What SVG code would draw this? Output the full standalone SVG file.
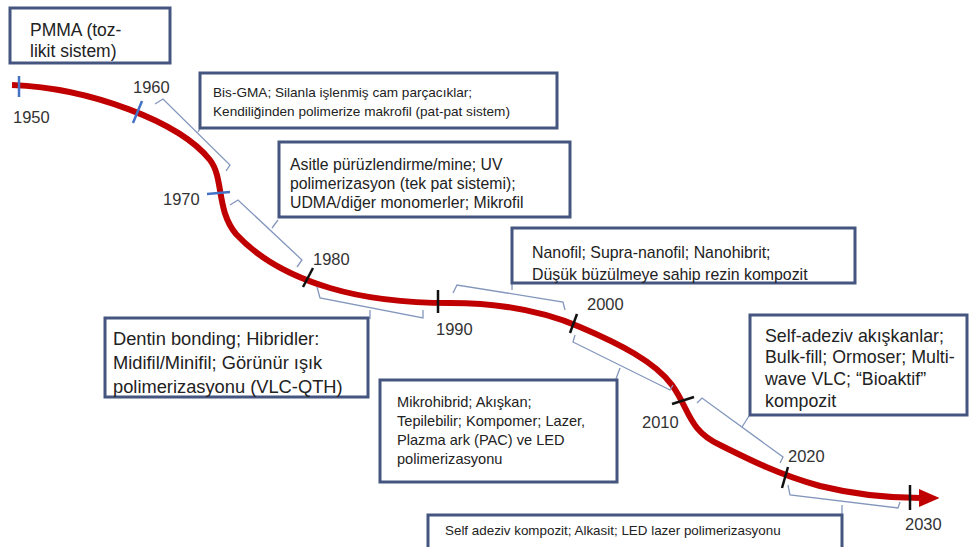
<svg xmlns="http://www.w3.org/2000/svg" width="971" height="547" viewBox="0 0 971 547">
<style>
.box{fill:#fff;stroke:#44557f;stroke-width:3}
.t{font-family:"Liberation Sans",Arial,sans-serif;fill:#222}
.yr{font-family:"Liberation Sans",Arial,sans-serif;fill:#333;font-size:16.5px}
.br{fill:none;stroke:#8397bd;stroke-width:1.3;stroke-linejoin:miter}
.tb{stroke:#4472c4;stroke-width:2.5}
.tk{stroke:#111;stroke-width:2.5}
</style>
<defs>
<marker id="ah" viewBox="0 0 10 10" refX="1" refY="5" markerWidth="3.4" markerHeight="3" markerUnits="strokeWidth" orient="auto" preserveAspectRatio="none">
<path d="M0,0 L10,5 L0,10 z" fill="#c00000"/>
</marker>
</defs>
<rect width="971" height="547" fill="#fff"/>

<g id="timeline">
<path d="M12,85 C90,88 180,122 210,160 C224,178 216,210 236,234 C258,258 290,276 330,288 C370,300 410,303 450,303 C500,303 545,312 580,327 C620,344 655,362 672,385 C690,410 688,430 720,445 C750,460 780,475 820,486 C860,496 890,498 921,498" fill="none" stroke="#c00000" stroke-width="6" marker-end="url(#ah)"/>
</g>

<g id="connectors">
<polyline class="br" points="155,104 163,99 230,165 226,171"/>
<polyline class="br" points="198,132 201,127"/>
<polyline class="br" points="230,205 238,200 302,260 297,267"/>
<polyline class="br" points="272,228 278,220"/>
<polyline class="br" points="317,287 320,298 423,318 423,310"/>
<polyline class="br" points="370,310 370,319"/>
<polyline class="br" points="453,293 457,285 563,302 565,310"/>
<polyline class="br" points="512,290 512,283"/>
<polyline class="br" points="575,335 573,342 670,390 673,385"/>
<polyline class="br" points="620,368 616,379"/>
<polyline class="br" points="697,403 702,398 783,457 780,463"/>
<polyline class="br" points="742,427 749,416"/>
<polyline class="br" points="788,485 790,495 898,508 900,502"/>
<polyline class="br" points="842,505 842,515"/>
</g>

<g id="ticks">
<line class="tb" x1="19" y1="76" x2="19" y2="97"/>
<line class="tb" x1="133" y1="123" x2="142" y2="101"/>
<line class="tb" x1="207" y1="194" x2="230" y2="192"/>
<line class="tk" x1="303" y1="287" x2="313" y2="268"/>
<line class="tk" x1="438" y1="290" x2="438" y2="313"/>
<line class="tk" x1="570" y1="333" x2="577" y2="314"/>
<line class="tk" x1="672" y1="404" x2="694" y2="397"/>
<line class="tk" x1="782" y1="488" x2="788" y2="467"/>
<line class="tk" x1="910" y1="485" x2="910" y2="510"/>
</g>

<g id="years">
<text class="yr" x="13" y="123">1950</text>
<text class="yr" x="133" y="93">1960</text>
<text class="yr" x="163" y="205">1970</text>
<text class="yr" x="313" y="265">1980</text>
<text class="yr" x="436" y="335">1990</text>
<text class="yr" x="587" y="310">2000</text>
<text class="yr" x="642" y="428">2010</text>
<text class="yr" x="788" y="462">2020</text>
<text class="yr" x="905" y="530">2030</text>
</g>

<g id="n1950">
<rect class="box" x="10" y="8" width="160" height="55"/>
<text class="t" font-size="17.5" x="30" y="36">PMMA (toz-</text>
<text class="t" font-size="17.5" x="30" y="57">likit sistem)</text>
</g>

<g id="n1960">
<rect class="box" x="200" y="73" width="357" height="55"/>
<text class="t" font-size="13.6" x="213" y="97">Bis-GMA; Silanla işlenmiş cam parçacıklar;</text>
<text class="t" font-size="13.6" x="213" y="116">Kendiliğinden polimerize makrofil (pat-pat sistem)</text>
</g>

<g id="n1970">
<rect class="box" x="279" y="142" width="291" height="75"/>
<text class="t" font-size="15.8" x="290" y="170">Asitle pürüzlendirme/mine; UV</text>
<text class="t" font-size="15.8" x="290" y="189">polimerizasyon (tek pat sistemi);</text>
<text class="t" font-size="15.8" x="290" y="208">UDMA/diğer monomerler; Mikrofil</text>
</g>

<g id="n1980">
<rect class="box" x="105" y="318" width="263" height="79"/>
<text class="t" font-size="18.3" x="113" y="345">Dentin bonding; Hibridler:</text>
<text class="t" font-size="18.3" x="113" y="369">Midifil/Minifil; Görünür ışık</text>
<text class="t" font-size="18.3" x="113" y="393">polimerizasyonu (VLC-QTH)</text>
</g>

<g id="n1990">
<rect class="box" x="512" y="228" width="343" height="55"/>
<text class="t" font-size="15.9" x="532" y="258">Nanofil; Supra-nanofil; Nanohibrit;</text>
<text class="t" font-size="15.9" x="532" y="280">Düşük büzülmeye sahip rezin kompozit</text>
</g>

<g id="n2000">
<rect class="box" x="380" y="380" width="237" height="102"/>
<text class="t" font-size="14.6" x="397" y="407">Mikrohibrid; Akışkan;</text>
<text class="t" font-size="14.6" x="397" y="426">Tepilebilir; Kompomer; Lazer,</text>
<text class="t" font-size="14.6" x="397" y="445">Plazma ark (PAC) ve LED</text>
<text class="t" font-size="14.6" x="397" y="464">polimerizasyonu</text>
</g>

<g id="n2010">
<rect class="box" x="750" y="315" width="217" height="100"/>
<text class="t" font-size="17.8" x="765" y="342">Self-adeziv akışkanlar;</text>
<text class="t" font-size="17.8" x="765" y="363">Bulk-fill; Ormoser; Multi-</text>
<text class="t" font-size="17.8" x="765" y="385">wave VLC; “Bioaktif”</text>
<text class="t" font-size="17.8" x="765" y="407">kompozit</text>
</g>

<g id="n2020">
<rect class="box" x="428" y="515" width="414" height="45"/>
<text class="t" font-size="13.4" x="445" y="535">Self adeziv kompozit; Alkasit; LED lazer polimerizasyonu</text>
</g>
</svg>
